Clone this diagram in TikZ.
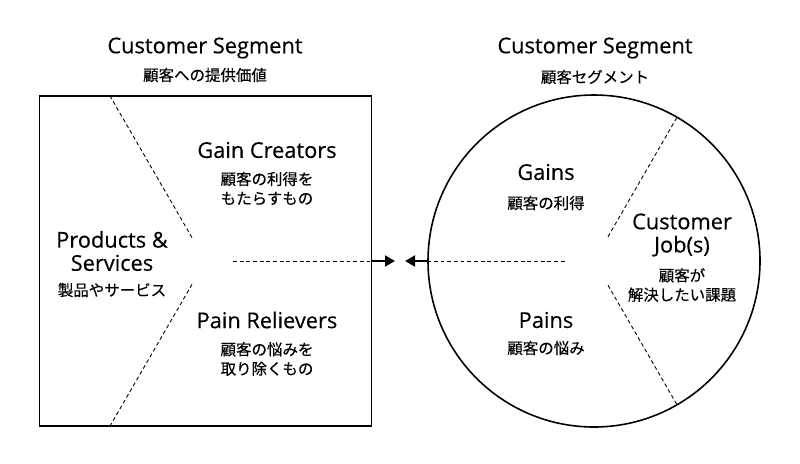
\documentclass[tikz,border=0pt]{standalone}
\usepackage{fontspec}
\setmainfont{Open Sans}[FakeBold=0.35]
\newfontfamily\jpfont{Noto Sans CJK JP}[FakeBold=0.3]
\usepackage{tikz}
\usetikzlibrary{arrows.meta,calc,positioning}
\tikzset{
  head/.style={align=center, inner sep=0pt, font=\fontsize{12.4}{13.2}\selectfont},
  sub/.style={align=center, inner sep=0pt, font=\jpfont\fontsize{8.8}{11}\selectfont},
  frame/.style={draw, line width=1.1pt},
  split/.style={dashed, line width=0.5pt, dash pattern=on 2.2pt off 1.6pt},
  push/.style={-{Triangle[length=2mm,width=2.2mm]}, line width=1.1pt}
}
\begin{document}
\begin{tikzpicture}[x=1cm,y=1cm]
  \useasboundingbox (0,0) rectangle (16,-9.26);

  % value proposition side
  \node[head] (vptitle) at (4.10,-0.96) {Customer Segment};
  \node[sub] (vpsub) at (4.10,-1.50) {顧客への提供価値};
  \node[frame, minimum width=6.64cm, minimum height=6.60cm, inner sep=0pt] (vp) at (4.11,-5.22) {};

  \draw[split] ($(vp.center)+(120:0.54)$) -- (2.20,-1.92);
  \draw[split] ($(vp.center)+(240:0.54)$) -- (2.20,-8.52);

  \node[head] (gaincre) at (5.34,-3.00) {Gain Creators};
  \node[sub] (gaincresub) at (5.34,-3.77) {顧客の利得を\\もたらすもの};
  \node[head] (prod) at (2.24,-5.02) {Products \&\\Services};
  \node[sub] (prodsub) at (2.24,-5.80) {製品やサービス};
  \node[head] (painrel) at (5.34,-6.40) {Pain Relievers};
  \node[sub] (painrelsub) at (5.34,-7.18) {顧客の悩みを\\取り除くもの};

  % customer side
  \node[head] (cstitle) at (11.90,-0.96) {Customer Segment};
  \node[sub] (cssub) at (11.90,-1.54) {顧客セグメント};
  \node[circle, draw, line width=0.9pt, minimum size=6.64cm, inner sep=0pt] (cs) at (11.88,-5.22) {};

  \draw[split] ($(cs.center)+(60:0.56)$) -- (cs.60);
  \draw[split] ($(cs.center)+(-60:0.56)$) -- (cs.-60);

  \node[head] (gains) at (10.92,-3.44) {Gains};
  \node[sub] (gainssub) at (10.92,-4.06) {顧客の利得};
  \node[head] (jobs) at (13.64,-4.70) {Customer\\Job(s)};
  \node[sub] (jobssub) at (13.64,-5.70) {顧客が\\解決したい課題};
  \node[head] (pains) at (10.92,-6.40) {Pains};
  \node[sub] (painssub) at (10.92,-6.96) {顧客の悩み};

  % fit arrows
  \coordinate (dl) at (4.66,-5.22);
  \coordinate (tipl) at (7.90,-5.22);
  \coordinate (tipr) at (8.10,-5.22);
  \coordinate (dr) at (11.34,-5.22);
  \draw[split] (dl) -- (vp.east);
  \draw[push] (vp.east) -- (tipl);
  \draw[split] (cs.west) -- (dr);
  \draw[push] (cs.west) -- (tipr);
\end{tikzpicture}
\end{document}
